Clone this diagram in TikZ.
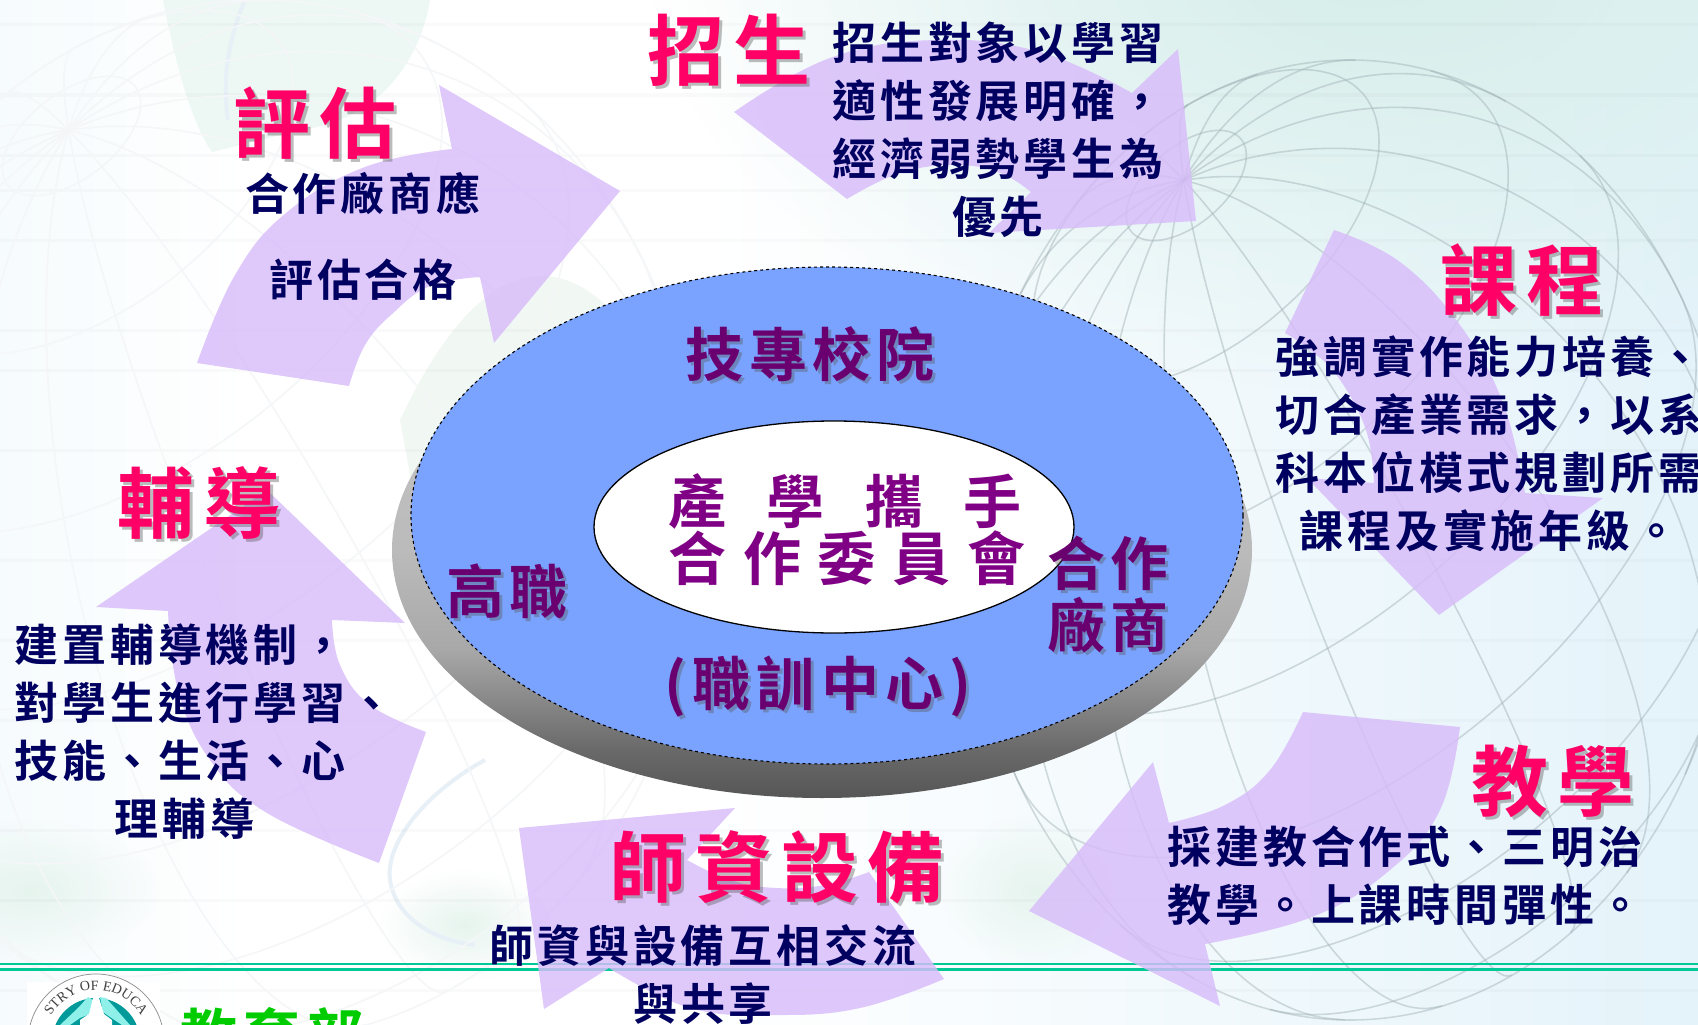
\documentclass[tikz,border=0pt]{standalone}
\usepackage{fontspec}
\usetikzlibrary{decorations.text,shadings,fadings}
\newfontfamily\cjk{Noto Sans CJK TC}[BoldFont={Noto Sans CJK TC Bold}]
\newfontfamily\latinser{Liberation Serif}
\newcommand{\fwc}{\char"FF0C\relax}
\definecolor{lav}{HTML}{D8BCFA}
\definecolor{navytxt}{HTML}{000060}
\definecolor{pinktxt}{HTML}{FF0066}
\definecolor{purptxt}{HTML}{6A0070}
\definecolor{gline}{HTML}{00C896}
\definecolor{bluefill}{HTML}{7AA3FF}
\definecolor{teal1}{HTML}{009A9A}
\definecolor{cyan1}{HTML}{8FF0EA}
\definecolor{grn}{HTML}{00CC00}
\definecolor{bgright}{HTML}{E4F3FA}
\definecolor{bgtop}{HTML}{D6EEE9}
\definecolor{bgleft}{HTML}{F6FBFD}
\definecolor{mapa}{HTML}{EDF7F3}
\definecolor{mapb}{HTML}{F1F8F4}
\definecolor{mapc}{HTML}{E6F4EE}
\definecolor{arcblue}{HTML}{E8F0F7}
\definecolor{gridfaint}{HTML}{F4F6F8}
\definecolor{gridgrey}{HTML}{9FB0B5}
\definecolor{discA}{HTML}{C6C6C6}
\definecolor{discB}{HTML}{BBBBBB}
\definecolor{discM}{HTML}{A8A8A8}
\definecolor{discN}{HTML}{6A6A6A}
\definecolor{discC}{HTML}{565656}
\pgfdeclareverticalshading{discgrey}{100bp}{color(0bp)=(discC); color(25bp)=(discC); color(30bp)=(discN); color(40bp)=(discM); color(50bp)=(discB); color(75bp)=(discA); color(100bp)=(discA)}
\tikzfading[name=softedge,inner color=transparent!0,outer color=transparent!100]
\tikzset{
  arrowshape/.style={fill=lav,fill opacity=.82,draw=none},
  bodytext/.style={text=navytxt,align=center,inner sep=0pt,font=\cjk\bfseries\fontsize{44}{58}\selectfont\addfontfeature{LetterSpace=9}},
  titletext/.style={text=pinktxt,inner sep=0pt,font=\cjk\bfseries\fontsize{77}{80}\selectfont\addfontfeature{LetterSpace=12}},
  disctext/.style={text=purptxt,align=center,inner sep=0pt,font=\cjk\bfseries\fontsize{58}{62}\selectfont\addfontfeature{LetterSpace=9}},
  gridline/.style={draw=#1,line width=1.6pt},
  greenrule/.style={draw=gline,line width=2.6pt},
  blob/.style={fill=#1,draw=none},
  softblob/.style={fill=#1,draw=none,path fading=softedge},
}
\newcommand{\shnode}[5]{%
  \node[#1,text=black!65,text opacity=.4] (#2s) at ({#3+3},{#4+3}) {#5};
  \node[#1] (#2) at (#3,#4) {#5};
}
% a sphere of meridians and parallels, seen tilted
\newcommand{\globeat}[5]{% cx cy R squeeze style
  \def\tlt{30}\def\rl{30}%
  \foreach \lam in {-170,-150,...,170}{%
    \pgfmathsetmacro\pz{atan(-cos(\lam)*cos(\tlt)/sin(\tlt))}%
    \draw[#5] plot[domain=\pz:90,samples=26,variable=\p,smooth]
      ({#1+#3*#4*((cos(\p)*sin(\lam))*cos(\rl)-(sin(\p)*cos(\tlt)-cos(\p)*cos(\lam)*sin(\tlt))*sin(\rl))},
       {#2-#3*((cos(\p)*sin(\lam))*sin(\rl)+(sin(\p)*cos(\tlt)-cos(\p)*cos(\lam)*sin(\tlt))*cos(\rl))});
  }%
  \foreach \p in {-40,-20,...,80}{%
    \pgfmathsetmacro\lz{acos(max(-1,min(1,-tan(\p)*tan(\tlt))))}%
    \draw[#5] plot[domain=-\lz:\lz,samples=40,variable=\lam,smooth]
      ({#1+#3*#4*((cos(\p)*sin(\lam))*cos(\rl)-(sin(\p)*cos(\tlt)-cos(\p)*cos(\lam)*sin(\tlt))*sin(\rl))},
       {#2-#3*((cos(\p)*sin(\lam))*sin(\rl)+(sin(\p)*cos(\tlt)-cos(\p)*cos(\lam)*sin(\tlt))*cos(\rl))});
  }%
  \draw[#5] (#1,#2) ellipse [x radius=#3*#4,y radius=#3];
}
\begin{document}
\begin{tikzpicture}[x=1pt,y=-1pt]
\useasboundingbox (0,0) rectangle (1698,1025);
\clip (0,0) rectangle (1698,1025);
% ---------- background ----------
\fill[white] (0,0) rectangle (1698,1025);
\fill[left color=white,right color=bgright] (700,0) rectangle (1698,1025);
\fill[left color=bgleft,right color=white] (0,0) rectangle (250,1025);
\fill[softblob=bgtop] (1370,-40) ellipse [x radius=720,y radius=430];
\fill[blob=mapa] (163,0) .. controls (175,60) and (190,120) .. (212,152) -- (300,130) .. controls (380,120) and (420,60) .. (430,0) -- cycle;
\fill[blob=mapb] (400,420) .. controls (480,250) and (560,250) .. (620,320) -- (500,560) -- (420,530) -- cycle;
\fill[softblob=mapc] (30,890) ellipse [x radius=130,y radius=70];
\fill[softblob=mapc] (1035,890) ellipse [x radius=95,y radius=75];
\fill[softblob=mapc] (465,925) ellipse [x radius=85,y radius=55];
\draw[arcblue,line width=4pt] (245,0) .. controls (228,40) and (222,80) .. (228,120);
\draw[arcblue,line width=4pt] (485,760) .. controls (430,790) and (385,840) .. (390,880) .. controls (395,915) and (430,940) .. (475,945);
\foreach \yy in {25,95,155,190,240,330,370,450,560,640,720,830,900,990}{
  \draw[black,opacity=.018,line width=3pt] (0,\yy) -- (1698,\yy);
}
\globeat{260}{520}{520}{.85}{gridline=gridfaint}
\globeat{1350}{540}{480}{.8}{gridline=gridgrey,opacity=.45}
% ---------- footer rules ----------
\draw[greenrule] (0,964) -- (1698,964);
\draw[greenrule] (0,969.5) -- (1698,969.5);
% ---------- logo ----------
\fill[white] (27,982) rectangle (160,1025);
\coordinate (logoc) at (96,1042);
\draw[black!45,fill=white,line width=.7pt] (logoc) circle [radius=68];
\fill[teal1] (logoc) circle [radius=44];
\fill[cyan1] (88,997) -- (93,1000) -- (90,1014) -- (80,1018) -- (70,1025) -- (60,1025) -- (78,1008) -- cycle;
\fill[cyan1] (100,997) -- (106,998) -- (115,1008) -- (130,1025) -- (122,1025) -- (110,1017) -- (103,1012) -- cycle;
\fill[white] (93,998) -- (99,998) -- (104,1014) -- (112,1020) -- (112,1025) -- (80,1025) -- (80,1020) -- (89,1014) -- cycle;
\path[postaction={decorate},decoration={text along path,
    text={|\latinser\fontsize{14}{14}\selectfont\color{black!75}|STRY OF EDUCA},
    text align=center}]
  (44,1042) arc [start angle=180,end angle=360,radius=52];
\node[text=grn,inner sep=0pt,font=\cjk\bfseries\fontsize{57}{60}\selectfont\addfontfeature{LetterSpace=10}] (moe) at (272,1035) {教育部};
% ---------- arrows ----------
\fill[arrowshape] (197,363)
  -- plot[smooth,tension=.7] coordinates {(197,363) (235,275) (286,213) (365,167) (452,149)}
  -- (439,85) -- (620,191) -- (494,343) -- (480,277)
  -- plot[smooth,tension=.7] coordinates {(480,277) (430,286) (392,314) (365,345) (349,386)}
  -- cycle;
\fill[arrowshape] (734,112)
  -- plot[smooth,tension=.7] coordinates {(734,112) (830,58) (936,40) (1040,52) (1132,93)}
  -- (1178,49) -- (1196,221) -- (989,233) -- (1031,192)
  -- plot[smooth,tension=.7] coordinates {(1031,192) (1000,173) (956,165) (900,173) (847,199)}
  -- cycle;
\fill[arrowshape] (1334,230)
  -- plot[smooth,tension=.7] coordinates {(1334,230) (1400,262) (1460,325) (1503,403) (1525,493)}
  -- (1603,498) -- (1439,615) -- (1307,478) -- (1374,483)
  -- plot[smooth,tension=.7] coordinates {(1374,483) (1366,430) (1338,377) (1310,350) (1285,333)}
  -- cycle;
\fill[arrowshape] (1460,727)
  -- plot[smooth,tension=.7] coordinates {(1460,727) (1440,810) (1390,870) (1312,917) (1205,944)}
  -- (1220,1006) -- (1029,911) -- (1153,762) -- (1169,823)
  -- plot[smooth,tension=.7] coordinates {(1169,823) (1225,805) (1270,770) (1303,712)}
  -- cycle;
\fill[arrowshape] (869,872)
  -- plot[smooth,tension=.7] coordinates {(869,872) (825,885) (776,888) (730,880) (687,860)}
  -- (735,808) -- (519,828) -- (544,1009) -- (609,968)
  -- plot[smooth,tension=.7] coordinates {(609,968) (690,1008) (776,1015) (860,1008) (944,979)}
  -- cycle;
\fill[arrowshape] (379,863)
  -- plot[smooth,tension=.7] coordinates {(379,863) (267,813) (210,760) (178,690) (168,611)}
  -- (96,607) -- (267,490) -- (405,623) -- (332,620)
  -- plot[smooth,tension=.7] coordinates {(332,620) (340,665) (370,705) (426,732)}
  -- cycle;
% ---------- discs ----------
\path[shading=discgrey] (822,550) ellipse [x radius=430,y radius=248];
\fill[bluefill] (827,515.5) ellipse [x radius=416,y radius=248.5];
\draw[black,line width=1.1pt,dash pattern=on 3pt off 3pt] (827,515.5) ellipse [x radius=416,y radius=248.5];
\draw[black,fill=white,line width=1.3pt] (834,527) ellipse [x radius=240,y radius=106];
% ---------- disc labels ----------
\shnode{disctext,font=\cjk\bfseries\fontsize{58}{62}\selectfont\addfontfeature{LetterSpace=10}}{jizhuan}{810}{354}{技專校院}
\node[disctext,text=purptxt!85!magenta,font=\cjk\bfseries\fontsize{58}{58}\selectfont\addfontfeature{LetterSpace=70}] (chanxue) at (845,501) {產學攜手};
\node[disctext,text=purptxt!85!magenta,font=\cjk\bfseries\fontsize{58}{58}\selectfont\addfontfeature{LetterSpace=29}] (hezuo) at (847,558) {合作委員會};
\shnode{disctext}{gaozhi}{507}{591}{高職}
\shnode{disctext}{changshang}{1108}{595}{合作\\廠商}
\shnode{disctext,font=\cjk\bfseries\fontsize{58}{62}\selectfont\addfontfeature{LetterSpace=11}}{zhixun}{818}{687}{(職訓中心)}
% ---------- titles ----------
\shnode{titletext}{tA}{729}{50}{招生}
\shnode{titletext}{tB}{315}{123}{評估}
\shnode{titletext}{tC}{1522}{280}{課程}
\shnode{titletext}{tD}{199}{503}{輔導}
\shnode{titletext}{tE}{1553}{781}{教學}
\shnode{titletext}{tF}{777}{867}{師資設備}
% ---------- body ----------
\node[bodytext] (b1) at (998,130) {招生對象以學習\\適性發展明確\fwc\\經濟弱勢學生為\\優先};
\node[bodytext,font=\cjk\bfseries\fontsize{44}{86}\selectfont\addfontfeature{LetterSpace=9}] (b2) at (363,236) {合作廠商應\\評估合格};
\node[bodytext] (b3) at (1489,444) {強調實作能力培養、\\切合產業需求\fwc 以系\\科本位模式規劃所需\\課程及實施年級。};
\node[bodytext] (b4) at (1405,876) {採建教合作式、三明治\\教學。上課時間彈性。};
\node[bodytext,align=left,anchor=west] (b5) at (14,732) {建置輔導機制\fwc\\對學生進行學習、\\技能、生活、心\\\hspace*{100pt}理輔導};
\node[bodytext] (b6) at (703,975) {師資與設備互相交流\\與共享};
\end{tikzpicture}
\end{document}
